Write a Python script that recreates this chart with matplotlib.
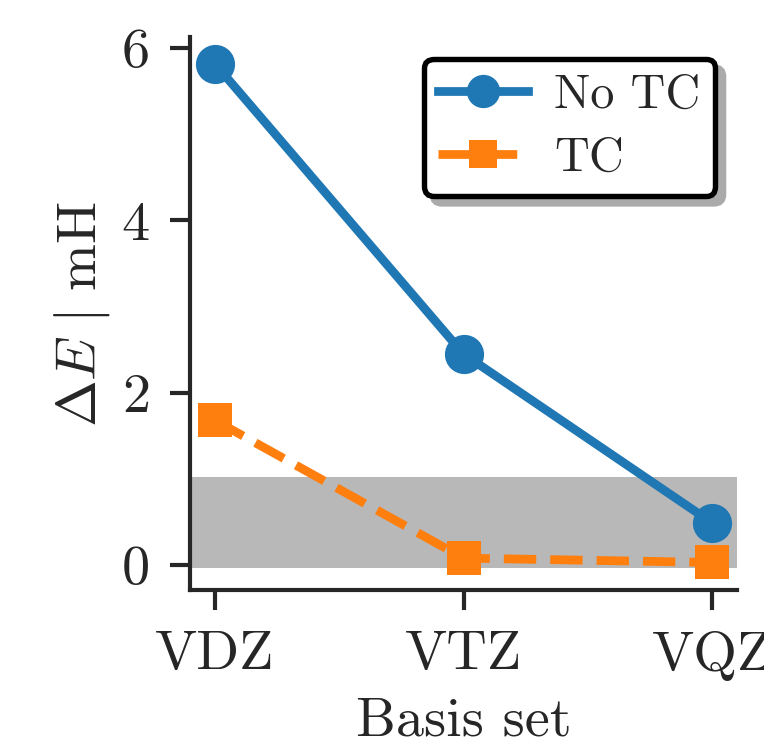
import matplotlib
matplotlib.use("Agg")
import matplotlib.pyplot as plt

# data
basis = ["VDZ", "VTZ", "VQZ"]
no_tc = [5.82, 2.45, 0.49]
tc = [1.68, 0.08, 0.03]
band_lo, band_hi = -0.03, 1.02

plt.rcParams["font.family"] = "cmr10"
plt.rcParams["mathtext.fontset"] = "cm"
plt.rcParams["axes.formatter.use_mathtext"] = True
plt.rcParams["text.color"] = "#262626"
plt.rcParams["axes.labelcolor"] = "#262626"
plt.rcParams["xtick.color"] = "#262626"
plt.rcParams["ytick.color"] = "#262626"

fig = plt.figure(figsize=(764 / 300, 739 / 300), dpi=300)
ax = fig.add_axes([190 / 764, 1 - 590 / 739, (737 - 190) / 764, (590 - 37) / 739])

x = list(range(len(basis)))
ax.axhspan(band_lo, band_hi, color="#b8b8b8", lw=0, zorder=0)
ax.plot(x, no_tc, "-o", color="#1f77b4", lw=2.1, ms=9.4, mew=0, label="No TC")
ax.plot(x, tc, "--s", color="#ff7f0e", lw=2.1, ms=8.0, mew=0, label="TC")

ax.set_xlim(-0.1, 2.1)
ax.set_ylim(-0.29, 6.13)
ax.set_xticks(x)
ax.set_xticklabels(basis)
ax.set_yticks([0, 2, 4, 6])
ax.tick_params(labelsize=13.5, length=4.8, width=1.0, pad=5)
for s in ["top", "right"]:
    ax.spines[s].set_visible(False)
for s in ["left", "bottom"]:
    ax.spines[s].set_linewidth(1.0)
    ax.spines[s].set_color("#262626")

ax.set_xlabel("Basis set", fontsize=13.5, labelpad=3.8)
ax.set_ylabel(r"$\Delta E\ |\ \mathrm{mH}$", fontsize=13.5, labelpad=2)

leg = ax.legend(loc="upper right", fontsize=11.6, fancybox=True,
                shadow={"color": "#aaaaaa", "alpha": 1},
                framealpha=1, edgecolor="black", bbox_to_anchor=(1.0, 1.0),
                markerscale=0.85, borderpad=0.3, labelspacing=0.4,
                handlelength=1.85, handletextpad=0.55, borderaxespad=0.45)
leg.get_frame().set_linewidth(1.3)
leg.get_frame().set_boxstyle("round", pad=0.0, rounding_size=0.2)

fig.savefig("out.png", dpi=300)
